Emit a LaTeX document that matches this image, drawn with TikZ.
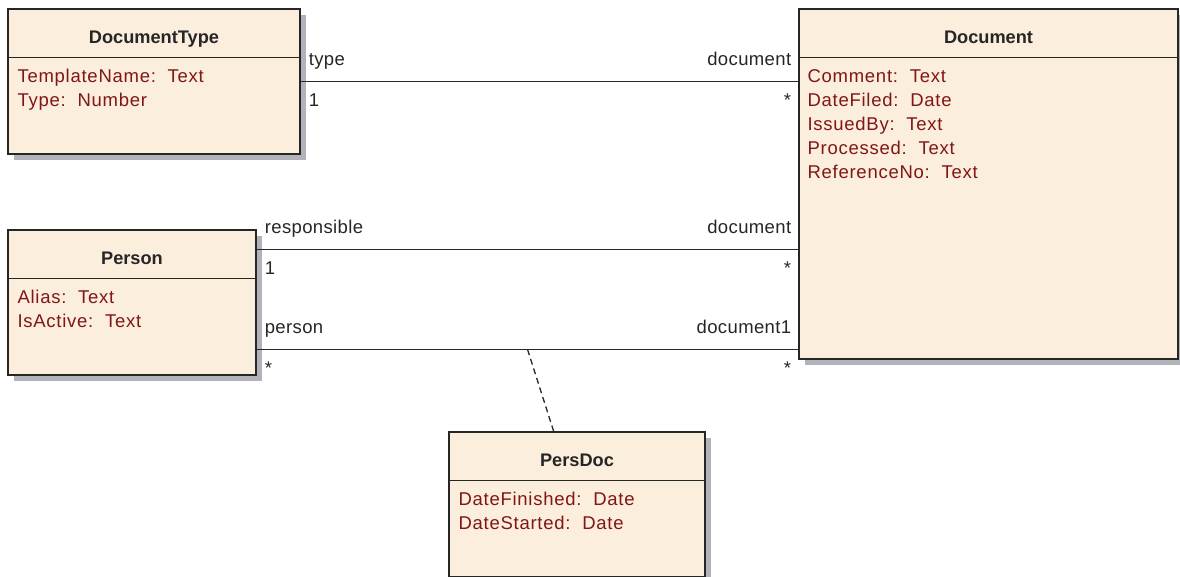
\documentclass[tikz,border=0pt]{standalone}
\usepackage{fontspec}
\setmainfont{Liberation Sans}
\newfontfamily\attrfont[LetterSpace=4]{Liberation Sans}
\newfontfamily\rolefont[LetterSpace=2]{Liberation Sans}
\usepackage{xcolor}
\usepackage{tikz}
\usetikzlibrary{calc, shadows, positioning}

\definecolor{classfill}{RGB}{251,238,221}
\definecolor{attrred}{RGB}{128,22,22}
\definecolor{shadowgray}{RGB}{178,178,186}
\definecolor{inkgray}{RGB}{38,38,38}

\newcommand{\attr}[2]{#1:\ \ #2}

\tikzset{
    classnode/.style = {draw=inkgray, line width=1.3pt, fill=classfill, rectangle, inner sep=0pt,
      drop shadow={shadow xshift=6pt, shadow yshift=-6pt, fill=shadowgray, opacity=1}},
    sepline/.style = {draw=inkgray, line width=1.3pt},
    titlenode/.style = {anchor=base, inner sep=0pt, text=inkgray,
      font=\fontsize{18.2}{22}\selectfont\bfseries},
    attrnode/.style = {anchor=base west, inner sep=0pt, text=attrred,
      font=\attrfont\fontsize{18.5}{22}\selectfont},
    rolenode/.style = {inner sep=0pt, text=inkgray, font=\rolefont\fontsize{18.5}{22}\selectfont},
    assoc/.style = {draw=inkgray, line width=1.3pt},
    assocclass/.style = {draw=inkgray, line width=1.3pt, dash pattern=on 6pt off 4pt}
}

\begin{document}
\begin{tikzpicture}[x=1pt, y=-1pt]
    \useasboundingbox (0,0) rectangle (1180,577);

    % classes
    \node [classnode, name=doctype, minimum width=292pt, minimum height=145pt] at (154,81.5) {};
    \node [classnode, name=document, minimum width=379pt, minimum height=350pt] at (988.5,184) {};
    \node [classnode, name=person, minimum width=248pt, minimum height=145pt] at (132,302.5) {};
    \node [classnode, name=persdoc, minimum width=256pt, minimum height=145pt] at (577,504.5) {};

    % header separators and names
    \foreach \c/\t in {doctype/DocumentType, document/Document, person/Person, persdoc/PersDoc} {
        \draw [sepline] ($(\c.north west)+(0,49)$) -- ($(\c.north east)+(0,49)$);
        \node [titlenode, name=\c-title] at ($(\c.north)+(0,35)$) {\t};
    }

    % attributes
    \foreach \a [count=\i] in {{\attr{TemplateName}{Text}}, {\attr{Type}{Number}}}
        \node [attrnode, name=doctype-a\i] at ($(doctype.north west)+(10,50+24*\i)$) {\a};
    \foreach \a [count=\i] in {{\attr{Comment}{Text}}, {\attr{DateFiled}{Date}}, {\attr{IssuedBy}{Text}},
        {\attr{Processed}{Text}}, {\attr{ReferenceNo}{Text}}}
        \node [attrnode, name=document-a\i] at ($(document.north west)+(9,50+24*\i)$) {\a};
    \foreach \a [count=\i] in {{\attr{Alias}{Text}}, {\attr{IsActive}{Text}}}
        \node [attrnode, name=person-a\i] at ($(person.north west)+(10,50+24*\i)$) {\a};
    \foreach \a [count=\i] in {{\attr{DateFinished}{Date}}, {\attr{DateStarted}{Date}}}
        \node [attrnode, name=persdoc-a\i] at ($(persdoc.north west)+(10,50+24*\i)$) {\a};

    % association ends on the person box
    \coordinate (resp) at ($(person.north east)+(0,20)$);
    \coordinate (pers) at ($(person.north east)+(0,120)$);

    % associations
    \draw [assoc] (doctype.east) -- (doctype.east -| document.west);
    \draw [assoc] (resp) -- (resp -| document.west);
    \draw [assoc] (pers) -- coordinate[midway] (persmid) (pers -| document.west);
    \draw [assocclass] (persmid) -- (persdoc);

    % role names and multiplicities
    \node [rolenode, anchor=base west, xshift=8pt, yshift=16pt, name=type-role] at (doctype.east) {type};
    \node [rolenode, anchor=base west, xshift=8pt, yshift=-25pt, name=type-mult] at (doctype.east) {1};
    \node [rolenode, anchor=base east, xshift=-7pt, yshift=16pt, name=doc1-role] at (doctype.east -| document.west) {document};
    \node [rolenode, anchor=base east, xshift=-7pt, yshift=-25pt, name=doc1-mult] at (doctype.east -| document.west) {*};

    \node [rolenode, anchor=base west, xshift=8pt, yshift=16pt, name=resp-role] at (resp) {responsible};
    \node [rolenode, anchor=base west, xshift=8pt, yshift=-25pt, name=resp-mult] at (resp) {1};
    \node [rolenode, anchor=base east, xshift=-7pt, yshift=16pt, name=doc2-role] at (resp -| document.west) {document};
    \node [rolenode, anchor=base east, xshift=-7pt, yshift=-25pt, name=doc2-mult] at (resp -| document.west) {*};

    \node [rolenode, anchor=base west, xshift=8pt, yshift=16pt, name=pers-role] at (pers) {person};
    \node [rolenode, anchor=base west, xshift=8pt, yshift=-25pt, name=pers-mult] at (pers) {*};
    \node [rolenode, anchor=base east, xshift=-7pt, yshift=16pt, name=doc3-role] at (pers -| document.west) {document1};
    \node [rolenode, anchor=base east, xshift=-7pt, yshift=-25pt, name=doc3-mult] at (pers -| document.west) {*};
\end{tikzpicture}
\end{document}
